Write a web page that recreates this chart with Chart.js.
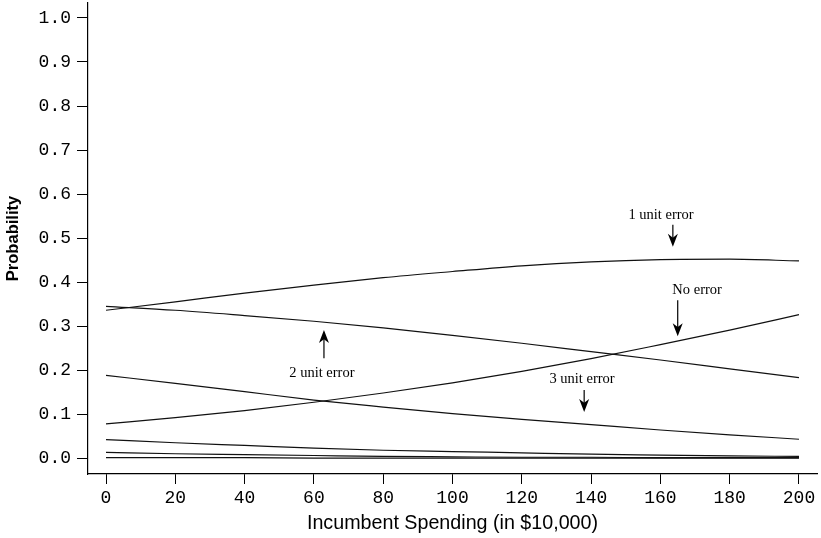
<!DOCTYPE html>
<html>
<head>
<meta charset="utf-8">
<script src="https://cdn.jsdelivr.net/npm/chart.js@4/dist/chart.umd.min.js"></script>
<style>
html,body{margin:0;padding:0;background:#fff;}
#wrap{width:821px;height:538px;position:relative;}
</style>
</head>
<body>
<div id="wrap"><canvas id="c" width="821" height="538"></canvas></div>
<script>
// Data
const spending = [0, 20, 40, 60, 80, 100, 120, 140, 160, 180, 200];
const oneUnitError   = [0.336, 0.355, 0.375, 0.393, 0.410, 0.424, 0.437, 0.446, 0.451, 0.452, 0.448];
const twoUnitError   = [0.345, 0.336, 0.324, 0.311, 0.296, 0.279, 0.261, 0.242, 0.223, 0.203, 0.183];
const noError        = [0.078, 0.092, 0.108, 0.127, 0.148, 0.171, 0.197, 0.226, 0.258, 0.291, 0.326];
const threeUnitError = [0.188, 0.170, 0.151, 0.132, 0.116, 0.101, 0.088, 0.076, 0.064, 0.053, 0.043];
const fourUnitError  = [0.042, 0.035, 0.029, 0.023, 0.018, 0.015, 0.012, 0.009, 0.007, 0.005, 0.004];
const fiveUnitError  = [0.013, 0.010, 0.008, 0.006, 0.004, 0.003, 0.002, 0.002, 0.001, 0.001, 0.001];
const sixUnitError   = [0.001, 0.001, 0.001, 0.000, 0.000, 0.000, 0.000, 0.000, 0.000, 0.000, 0.000];
const xTicks = [0, 20, 40, 60, 80, 100, 120, 140, 160, 180, 200];
const yTicks = [0.0, 0.1, 0.2, 0.3, 0.4, 0.5, 0.6, 0.7, 0.8, 0.9, 1.0];
const labels = [
  {text: '1 unit error', x: 160.2, y: 0.553, arrowX: 163.6, from: 0.53, to: 0.48},
  {text: 'No error', x: 170.6, y: 0.382, arrowX: 165, from: 0.359, to: 0.277},
  {text: '2 unit error', x: 62.3, y: 0.193, arrowX: 62.9, from: 0.227, to: 0.291},
  {text: '3 unit error', x: 137.4, y: 0.180, arrowX: 138, from: 0.155, to: 0.105}
];

const seriesList = [oneUnitError, twoUnitError, noError, threeUnitError, fourUnitError, fiveUnitError, sixUnitError];
const seriesNames = ['1 unit error', '2 unit error', 'No error', '3 unit error', '4 unit error', '5 unit error', '6 unit error'];

const datasets = seriesList.map((s, i) => ({
  label: seriesNames[i],
  data: spending.map((x, j) => ({x: x, y: s[j]})),
  borderColor: '#111',
  borderWidth: 1.2,
  pointRadius: 0,
  fill: false,
  cubicInterpolationMode: 'monotone'
}));

const annotPlugin = {
  id: 'annot',
  afterDatasetsDraw(chart) {
    const ctx = chart.ctx;
    const xs = chart.scales.x, ys = chart.scales.y;
    ctx.save();
    ctx.fillStyle = '#000';
    ctx.strokeStyle = '#000';
    ctx.font = '14.5px "Liberation Serif", "Times New Roman", serif';
    ctx.textAlign = 'center';
    ctx.textBaseline = 'middle';
    labels.forEach(l => {
      ctx.fillText(l.text, xs.getPixelForValue(l.x), ys.getPixelForValue(l.y));
      const ax = xs.getPixelForValue(l.arrowX);
      const y1 = ys.getPixelForValue(l.from);
      const y2 = ys.getPixelForValue(l.to);
      const dir = y2 > y1 ? 1 : -1;
      const headLen = 13, headW = 5;
      ctx.lineWidth = 1.2;
      ctx.beginPath();
      ctx.moveTo(ax, y1);
      ctx.lineTo(ax, y2 - dir * headLen * 0.6);
      ctx.stroke();
      ctx.beginPath();
      ctx.moveTo(ax, y2);
      ctx.lineTo(ax - headW, y2 - dir * headLen);
      ctx.lineTo(ax, y2 - dir * headLen * 0.7);
      ctx.lineTo(ax + headW, y2 - dir * headLen);
      ctx.closePath();
      ctx.fill();
    });
    ctx.restore();
  }
};

const tickFont = {family: '"Liberation Mono", "Courier New", monospace', size: 18};

new Chart(document.getElementById('c'), {
  type: 'line',
  data: {datasets: datasets},
  options: {
    responsive: false,
    animation: false,
    layout: {padding: {top: 3, right: 4, left: 0, bottom: 0}},
    plugins: {legend: {display: false}, tooltip: {enabled: false}},
    scales: {
      x: {
        type: 'linear',
        min: -5.2,
        max: 205.2,
        afterFit(scale) { scale.height = 64; scale.paddingLeft = 0; scale.paddingRight = 0; },
        afterBuildTicks(scale) { scale.ticks = xTicks.map(v => ({value: v})); },
        grid: {drawOnChartArea: false, drawTicks: true, tickLength: 10, color: '#000', lineWidth: 1},
        border: {display: true, color: '#000', width: 1.2},
        ticks: {color: '#000', font: tickFont, padding: 3, maxRotation: 0, autoSkip: false,
                callback: v => String(v)},
        title: {display: true, text: 'Incumbent Spending (in $10,000)', color: '#000',
                font: {family: '"Liberation Sans", Arial, sans-serif', size: 19.7},
                padding: {top: 0, bottom: 3}}
      },
      y: {
        type: 'linear',
        min: -0.036,
        max: 1.034,
        afterFit(scale) { scale.width = 88; scale.paddingTop = 0; scale.paddingBottom = 0; },
        afterBuildTicks(scale) { scale.ticks = yTicks.map(v => ({value: v})); },
        grid: {drawOnChartArea: false, drawTicks: true, tickLength: 11, color: '#000', lineWidth: 1},
        border: {display: true, color: '#000', width: 1.2},
        ticks: {color: '#000', font: tickFont, padding: 6, autoSkip: false,
                callback: v => Number(v).toFixed(1)},
        title: {display: true, text: 'Probability', color: '#000',
                font: {family: '"Liberation Sans", Arial, sans-serif', size: 16.5, weight: 'bold'},
                padding: {top: 4, bottom: 0}}
      }
    }
  },
  plugins: [annotPlugin]
});
</script>
</body>
</html>
